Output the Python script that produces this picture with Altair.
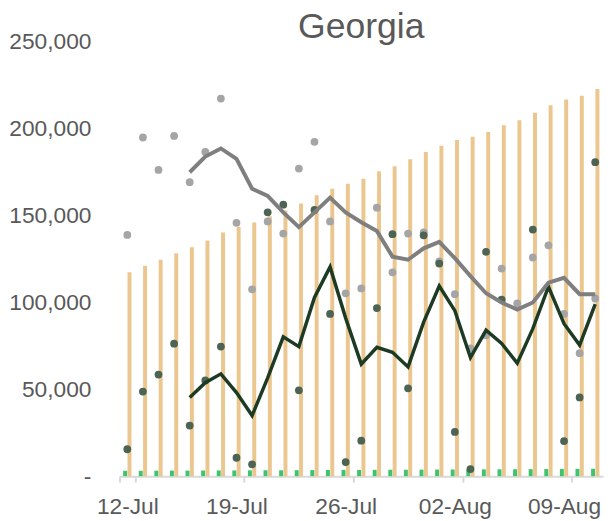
import altair as alt
import pandas as pd

dates = ["12-Jul", "13-Jul", "14-Jul", "15-Jul", "16-Jul", "17-Jul", "18-Jul",
         "19-Jul", "20-Jul", "21-Jul", "22-Jul", "23-Jul", "24-Jul", "25-Jul",
         "26-Jul", "27-Jul", "28-Jul", "29-Jul", "30-Jul", "31-Jul", "01-Aug",
         "02-Aug", "03-Aug", "04-Aug", "05-Aug", "06-Aug", "07-Aug", "08-Aug",
         "09-Aug", "10-Aug", "11-Aug"]

tick_dates = ["12-Jul", "19-Jul", "26-Jul", "02-Aug", "09-Aug"]

cumulative = [117400, 121200, 124600, 128400, 131800, 135700, 140300, 143400,
              146100, 149600, 152900, 157000, 161800, 165500, 168400, 171200,
              175500, 178500, 182500, 186700, 190300, 193500, 195500, 198200,
              202100, 205000, 209300, 213500, 216900, 219100, 222900]

small_bars = [3100, 3100, 3150, 3200, 3200, 3250, 3300, 3300, 3350, 3400,
              3400, 3450, 3500, 3550, 3600, 3600, 3650, 3700, 3700, 3750,
              3800, 3850, 3900, 3900, 3950, 4000, 4050, 4100, 4150, 4200, 4250]

gray_daily = [138900, 195000, 176300, 195900, 169300, 186700, 217400, 145900,
              107600, 146700, 139700, 177100, 192500, 146700, 105300, 108100,
              154600, 117400, 139700, 140300, 123600, 104800, 73600, 81100,
              119500, 99500, 125900, 132900, 93400, 70800, 102300]

green_daily = [15500, 48700, 58500, 76300, 29100, 55100, 74600, 10600,
               6800, 151900, 156300, 49400, 153300, 93400, 8100, 20400,
               96800, 139300, 50600, 138700, 122400, 25500, 4100, 129200,
               101700, None, 142000, None, 20200, 45300, 180800]

gray_avg = [None, None, None, None, 175000, 184000, 188700, 182700,
            165500, 161400, 151900, 143400, 151900, 160400, 151900, 146200,
            141200, 126400, 124600, 131200, 134900, 125500, 115200, 105300,
            100000, 95900, 100000, 111400, 114200, 104800, 104800]

green_avg = [None, None, None, None, 45300, 53800, 58900, 48100,
             34900, 56600, 80200, 74600, 102900, 120500, 91000, 64500,
             74200, 71300, 62900, 88700, 109500, 95300, 68300, 84000,
             76400, 65100, 84900, 109100, 87800, 75500, 99100]

df = pd.DataFrame({
    "date": dates,
    "cumulative": cumulative,
    "small": small_bars,
    "gray_daily": gray_daily,
    "green_daily": green_daily,
    "gray_avg": gray_avg,
    "green_avg": green_avg,
})

TEXT = "#595959"
FONT = "Liberation Sans"

x_enc = alt.X(
    "date:N", sort=dates,
    scale=alt.Scale(type="band", paddingInner=0, paddingOuter=0),
    axis=alt.Axis(values=tick_dates, title=None, labelAngle=0, tickBand="extent",
                  domainColor="#d9d9d9", domainWidth=2, tickColor="#d9d9d9",
                  tickWidth=2, tickSize=6, labelFontSize=23, labelColor=TEXT,
                  labelFont=FONT, labelPadding=14, grid=False),
)

y_scale = alt.Scale(domain=[0, 250000], nice=False, zero=True)
y_axis = alt.Axis(values=[0, 50000, 100000, 150000, 200000, 250000], title=None,
                  domain=False, ticks=False, grid=False, labelFontSize=23,
                  labelColor=TEXT, labelFont=FONT, labelPadding=29,
                  labelFlush=False, labelOverlap=False,
                  labelExpr="datum.value == 0 ? '-\u00a0\u00a0' : format(datum.value, ',')")


def y(field):
    return alt.Y(f"{field}:Q", scale=y_scale, axis=y_axis)


base = alt.Chart(df).encode(x=x_enc)

bars_cum = base.mark_bar(size=4, xOffset=2.2, color="#ebc68f").encode(y=y("cumulative"))
bars_small = base.mark_bar(size=4, xOffset=-2.2, color="#3ec46d").encode(y=y("small"))
gray_pts = base.mark_circle(size=62, color="#a5a5a5", opacity=1).encode(y=y("gray_daily"))
green_pts = base.mark_circle(size=62, color="#4d6353", opacity=1).encode(y=y("green_daily"))
green_line = base.mark_line(color="#1c3a24", strokeWidth=3.5).encode(y=y("green_avg"))
gray_line = base.mark_line(color="#7f7f7f", strokeWidth=4).encode(y=y("gray_avg"))

chart = alt.layer(bars_cum, bars_small, gray_pts, green_pts, green_line, gray_line).properties(
    width=490, height=440,
    autosize=alt.AutoSizeParams(type="none"),
    padding={"left": 113, "top": 31, "right": 2, "bottom": 42},
    title=alt.TitleParams("Georgia", fontSize=36, font=FONT, color=TEXT,
                          fontWeight="normal", anchor="middle", frame="group",
                          offset=-15),
).configure_view(stroke=None)

chart.save("out.html", embed_options={"renderer": "svg", "actions": False})
